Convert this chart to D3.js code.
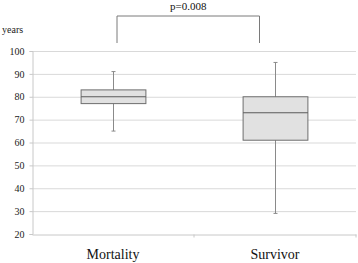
<!DOCTYPE html>
<html>
<head>
<meta charset="utf-8">
<script src="https://cdn.jsdelivr.net/npm/d3@7"></script>
<style>
  body { margin: 0; background: #fff; }
  svg text { font-family: "Liberation Serif", "Times New Roman", serif !important; }
</style>
</head>
<body>
<div id="d3chart"></div>
<script>
// DATA ===========================================================================================
const categories = ["Mortality", "Survivor"]
const whiskerLow = [65, 29]
const q1 = [77, 61]
const median = [80, 73]
const q3 = [83, 80]
const whiskerHigh = [91, 95]
const yTicks = [20, 30, 40, 50, 60, 70, 80, 90, 100]
const pLabel = "p=0.008"

const data = categories.map((c, i) => ({
  cat: c, lo: whiskerLow[i], q1: q1[i], med: median[i], q3: q3[i], hi: whiskerHigh[i]
}))

// SET UP =========================================================================================
const width = 358
const height = 263
const margin = {top: 51, bottom: 29, left: 32, right: 2}
const ctr_width = width - margin.left - margin.right
const ctr_height = height - margin.top - margin.bottom
const serif = '"Liberation Serif", "Times New Roman", serif'

const root = d3.select('#d3chart')
  .append('svg')
  .attr('width', width)
  .attr('height', height)

const svg = root.append('g')
  .attr('transform', `translate(${margin.left}, ${margin.top})`)

// SCALES AND AXES ================================================================================
const x = d3.scaleBand()
  .domain(categories)
  .range([0, ctr_width])

const y = d3.scaleLinear()
  .domain([20, 100])
  .range([ctr_height, 0])

// gridlines
svg.append('g')
  .selectAll('line')
  .data(yTicks.filter(t => t > 20))
  .join('line')
    .attr('x1', 0)
    .attr('x2', ctr_width)
    .attr('y1', d => y(d) + 0.5)
    .attr('y2', d => y(d) + 0.5)
    .attr('stroke', '#d9d9d9')
    .attr('stroke-width', 1)

const yAxis = svg.append('g')
  .attr('transform', 'translate(0.5,0)')
  .call(d3.axisLeft(y).tickValues(yTicks).tickSize(3).tickPadding(5))
yAxis.attr('font-family', null)
yAxis.select('.domain').attr('stroke', '#c8c8c8')
yAxis.selectAll('.tick line').attr('stroke', '#c8c8c8')
yAxis.selectAll('.tick text')
  .style('font-family', serif)
  .style('font-size', '10px')
  .attr('fill', '#222')

const xAxis = svg.append('g')
  .attr('transform', `translate(0, ${ctr_height + 0.5})`)
  .call(d3.axisBottom(x).tickSize(0).tickPadding(15))
xAxis.attr('font-family', null)
xAxis.select('.domain').attr('stroke', '#c8c8c8')
xAxis.selectAll('.tick text')
  .style('font-family', serif)
  .style('font-size', '14px')
  .attr('fill', '#111')
// boundary ticks
xAxis.selectAll('.bound')
  .data(categories)
  .join('line')
    .attr('x1', d => x(d) + x.bandwidth())
    .attr('x2', d => x(d) + x.bandwidth())
    .attr('y1', 0)
    .attr('y2', 3)
    .attr('stroke', '#c8c8c8')

root.append('text')
  .attr('x', 2)
  .attr('y', 33)
  .style('font-family', serif)
  .style('font-size', '10px')
  .attr('fill', '#222')
  .text('years')

// MARKS ==========================================================================================
const boxW = x.bandwidth() * 0.4
const cx = d => Math.round(x(d.cat) + x.bandwidth() / 2) + 0.5

const g = svg.selectAll('.box')
  .data(data)
  .join('g')

g.append('line')
  .attr('x1', cx).attr('x2', cx)
  .attr('y1', d => y(d.hi)).attr('y2', d => y(d.lo))
  .attr('stroke', '#8a8a8a')

g.append('line')
  .attr('x1', d => cx(d) - 2).attr('x2', d => cx(d) + 2)
  .attr('y1', d => y(d.hi)).attr('y2', d => y(d.hi))
  .attr('stroke', '#8a8a8a')
g.append('line')
  .attr('x1', d => cx(d) - 2).attr('x2', d => cx(d) + 2)
  .attr('y1', d => y(d.lo)).attr('y2', d => y(d.lo))
  .attr('stroke', '#8a8a8a')

g.append('rect')
  .attr('x', d => cx(d) - boxW / 2)
  .attr('y', d => y(d.q3))
  .attr('width', boxW)
  .attr('height', d => y(d.q1) - y(d.q3))
  .attr('fill', '#e1e1e1')
  .attr('stroke', '#6e6e6e')

g.append('line')
  .attr('x1', d => cx(d) - boxW / 2).attr('x2', d => cx(d) + boxW / 2)
  .attr('y1', d => y(d.med)).attr('y2', d => y(d.med))
  .attr('stroke', '#5a5a5a')

// significance bracket
const bx1 = cx(data[0]) + 3.5
const bx2 = cx(data[1]) - 16
const by = -35
svg.append('path')
  .attr('d', `M${bx1},${-8}V${by}H${bx2}V${-8}`)
  .attr('fill', 'none')
  .attr('stroke', '#7a7a7a')

svg.append('text')
  .attr('x', (bx1 + bx2) / 2)
  .attr('y', -41)
  .attr('text-anchor', 'middle')
  .style('font-family', serif)
  .style('font-size', '11px')
  .attr('fill', '#111')
  .text(pLabel)
</script>
</body>
</html>
